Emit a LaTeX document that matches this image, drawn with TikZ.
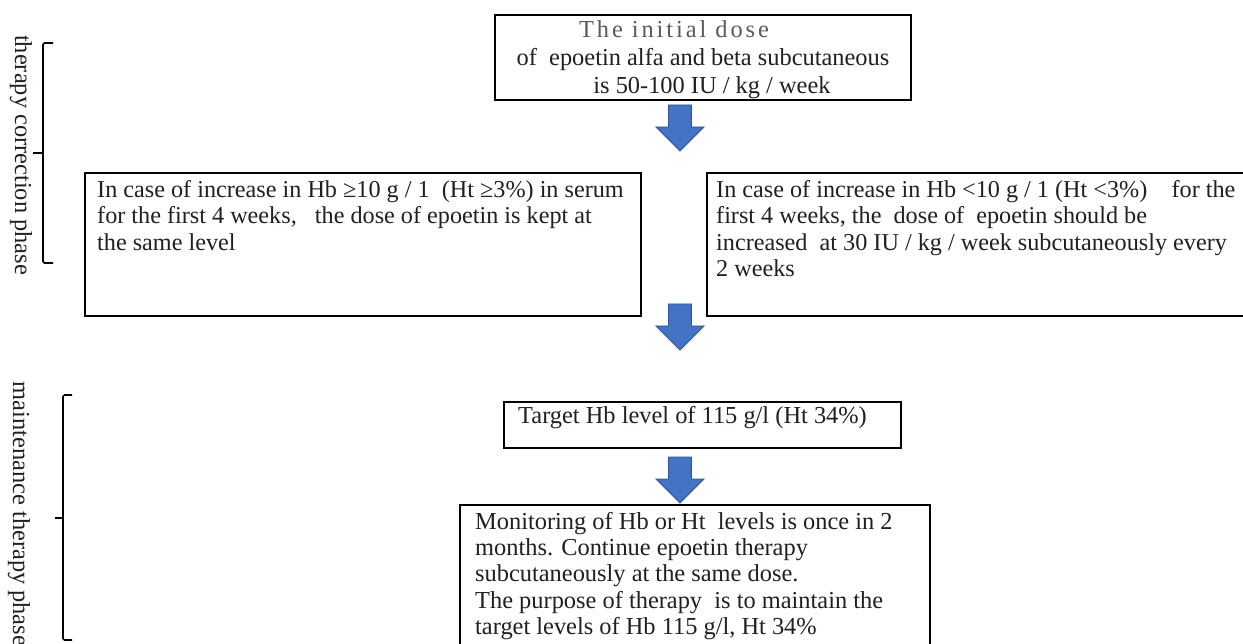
\documentclass[tikz,border=0pt]{standalone}
\usepackage{fontspec}
\setmainfont{Liberation Serif}
\definecolor{arrfill}{HTML}{4472C4}
\definecolor{arrline}{HTML}{2F5597}
\definecolor{txt}{HTML}{231F20}
\definecolor{txtgray}{HTML}{5A5A5A}
\begin{document}
\begin{tikzpicture}[x=1pt,y=-1pt,
  boxline/.style={draw=black, line width=1.6pt},
  bodytext/.style={inner sep=0pt, anchor=north west, align=left, text=txt,
    font=\fontsize{24.2}{26.5}\selectfont},
  brace/.style={draw=black, line width=1.6pt, rounded corners=1.5pt},
  phase/.style={inner sep=0pt, rotate=-90, text=txt, font=\fontsize{24.4}{29}\selectfont},
  blockarr/.pic={\draw[fill=arrfill, draw=arrline, line width=0.9pt, line join=miter]
     (-11.5,0) -- (11.5,0) -- (11.5,22) -- (24,22) -- (0,46) -- (-24,22) -- (-11.5,22) -- cycle;}
]
\useasboundingbox (0,0) rectangle (1243,644);
\clip (0,0) rectangle (1243,644);
\fill[white] (0,0) rectangle (1243,644);

% boxes
\node[boxline, inner sep=0pt, minimum width=416pt, minimum height=85pt] (init) at (703,57.5) {};
\node[boxline, inner sep=0pt, minimum width=556pt, minimum height=143pt] (left) at (363,244.5) {};
\node[boxline, inner sep=0pt, minimum width=560pt, minimum height=143pt] (right) at (987,244.5) {};
\node[boxline, inner sep=0pt, minimum width=397pt, minimum height=46pt] (target) at (702.5,425) {};
\node[boxline, inner sep=0pt, minimum width=470pt, minimum height=170pt] (monitor) at (695,590) {};

% texts
\node[inner sep=0pt, anchor=north, align=center, text=txt, font=\fontsize{24.4}{28}\selectfont] (initT) at (703,20.5)
  {\textcolor{txtgray}{\addfontfeature{LetterSpace=12}The initial dose}\hspace*{58pt}\\of\ \ epoetin alfa and beta subcutaneous\\\hspace*{18pt}is 50-100 IU / kg / week};
\node[bodytext] (leftT) at (97,180)
  {In case of increase in Hb ≥10 g / 1\ \ (Ht ≥3\%) in serum\\for the first 4 weeks,\ \ \ the dose of epoetin is kept at\\the same level};
\node[bodytext] (rightT) at (716,180)
  {In case of increase in Hb <10 g / 1 (Ht <3\%)\ \ \ \ for the\\first 4 weeks, the\ \ dose of\ \ epoetin should be\\increased\ \ at 30 IU / kg / week subcutaneously every\\2 weeks};
\node[bodytext, font=\fontsize{24.4}{26.5}\selectfont] (targetT) at (518,406) {Target Hb level of 115 g/l (Ht 34\%)};
\node[bodytext, font=\fontsize{24.4}{26.3}\selectfont] (monitorT) at (475,512)
  {Monitoring of Hb or Ht\ \ levels is once in 2\\months. Continue epoetin therapy\\subcutaneously at the same dose.\\The purpose of therapy\ \ is to maintain the\\target levels of Hb 115 g/l, Ht 34\%};

% block arrows
\pic at (680,105) {blockarr};
\pic at (680,304) {blockarr};
\pic at (680,457) {blockarr};

% phase brackets
\coordinate (b1t) at (53,43);
\coordinate (b1b) at (53,263);
\draw[brace] (b1t) -- (43,43) -- (43,263) -- (b1b);
\draw[brace] (43,153) -- (33,153);
\node[phase] (ph1) at (21,155) {therapy correction phase};

\coordinate (b2t) at (72,395);
\coordinate (b2b) at (72,640);
\draw[brace] (b2t) -- (63,395) -- (63,640) -- (b2b);
\draw[brace] (63,518) -- (55,518);
\node[phase] (ph2) at (19,514) {maintenance therapy phase};
\end{tikzpicture}
\end{document}
